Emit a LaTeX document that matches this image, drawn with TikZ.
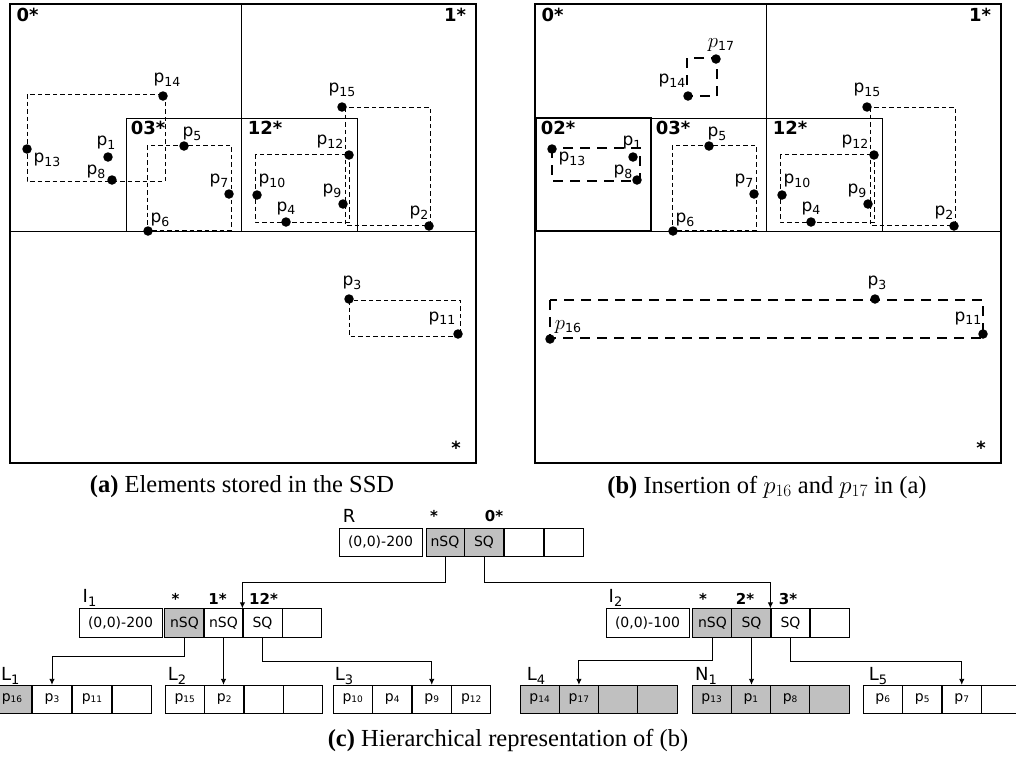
\documentclass[tikz,border=0pt]{standalone}
\usepackage{fontspec}
\setmainfont{Liberation Serif}
\newfontfamily\dvs{DejaVu Sans}
\usetikzlibrary{arrows.meta}
\definecolor{cgray}{RGB}{192,192,192}
\newcommand\plabf{\dvs\fontsize{17}{17}\selectfont}
\newcommand\ptxt[1]{p\raisebox{-3.5pt}{\fontsize{12.5}{12.5}\selectfont #1}}
\newcommand\iptxt[1]{{\fontsize{22}{22}\selectfont$p$}\raisebox{-3.5pt}{\fontsize{12.5}{12.5}\selectfont #1}}
\newcommand\qlabf{\dvs\bfseries\fontsize{18}{18}\selectfont}
\newcommand\cellf{\dvs\fontsize{14}{14}\selectfont}
\newcommand\lptxt[1]{p\raisebox{-0.8pt}{\fontsize{9}{9}\selectfont #1}}
\newcommand\trlab[2]{#1\raisebox{-4pt}{\fontsize{13}{13}\selectfont #2}}
\newcommand\starf{\dvs\bfseries\fontsize{15}{15}\selectfont}
\newcommand\trlabf{\dvs\fontsize{18}{18}\selectfont}
\tikzset{
  framel/.style={line width=1.4pt},
  gridl/.style={line width=0.9pt},
  dsh/.style={dash pattern=on 4.5pt off 3pt, line width=0.9pt},
  tdsh/.style={dash pattern=on 10pt off 7pt, line width=2.8pt},
  ptdot/.style={circle, fill=black, inner sep=0pt, minimum size=9.5pt},
  plab/.style={font=\plabf, inner sep=0pt},
  qlab/.style={font=\qlabf, inner sep=0pt},
  slab/.style={font=\starf, inner sep=0pt},
  tlab/.style={font=\trlabf, inner sep=0pt},
  captxt/.style={font=\fontsize{24.5}{24.5}\selectfont, inner sep=0pt},
  cell/.style={draw, line width=0.9pt, minimum height=28.5pt, minimum width=39.3pt, inner sep=0pt, font=\cellf},
  gcell/.style={cell, fill=cgray},
  wide/.style={cell, minimum width=83pt},
  arr/.style={line width=0.9pt, -{Latex[length=6pt,width=5.5pt]}}
}
\begin{document}
\begin{tikzpicture}[x=1pt,y=-1pt]
\path[use as bounding box] (0,0) rectangle (1016,756);
\clip (0,0) rectangle (1016,756);

% ================= panel (a) =================
\draw[framel] (10,4) rectangle (476,463);
\draw[gridl] (241,4) -- (241,231);
\draw[gridl] (10,231) -- (476,231);
\draw[gridl] (126,118) rectangle (241,231);
\draw[gridl] (241,118) rectangle (357,231);
\draw[dsh] (27,94) rectangle (165,181);
\draw[dsh] (147,145) rectangle (231,230);
\draw[dsh] (345,107) rectangle (430,225);
\draw[dsh] (255,154) rectangle (349,222);
\draw[dsh] (349,300) rectangle (460,336);
\node[qlab] (qa0) at (27.5,15) {0*};
\node[qlab] (qa1) at (455,15) {1*};
\node[qlab] (qa03) at (148,128) {03*};
\node[qlab] (qa12) at (265,128) {12*};
\node[qlab] (qas) at (456,448) {\vphantom{0}*};
\node[ptdot] (a14) at (163,96) {};
\node[ptdot] (a13) at (27,149) {};
\node[ptdot] (a1) at (108,157) {};
\node[ptdot] (a8) at (112,180) {};
\node[ptdot] (a5) at (184,146) {};
\node[ptdot] (a7) at (229,194) {};
\node[ptdot] (a6) at (148,231) {};
\node[ptdot] (a15) at (342,107) {};
\node[ptdot] (a12) at (349,155) {};
\node[ptdot] (a10) at (257,195) {};
\node[ptdot] (a9) at (343,204) {};
\node[ptdot] (a4) at (286,222) {};
\node[ptdot] (a2) at (429,226) {};
\node[ptdot] (a3) at (349,299) {};
\node[ptdot] (a11) at (458,334) {};
\node[plab] (la14) at (167,80) {\ptxt{14}};
\node[plab] (la13) at (47,160) {\ptxt{13}};
\node[plab] (la1) at (106,143) {\ptxt{1}};
\node[plab] (la8) at (96,172) {\ptxt{8}};
\node[plab] (la5) at (192,134) {\ptxt{5}};
\node[plab] (la7) at (219,181) {\ptxt{7}};
\node[plab] (la6) at (160,220) {\ptxt{6}};
\node[plab] (la15) at (342,90) {\ptxt{15}};
\node[plab] (la12) at (330,142) {\ptxt{12}};
\node[plab] (la10) at (272,181) {\ptxt{10}};
\node[plab] (la9) at (332,191) {\ptxt{9}};
\node[plab] (la4) at (286,208) {\ptxt{4}};
\node[plab] (la2) at (419,213) {\ptxt{2}};
\node[plab] (la3) at (352,283) {\ptxt{3}};
\node[plab] (la11) at (442,318) {\ptxt{11}};

% ================= panel (b) =================
\draw[framel] (535,4) rectangle (1001,463);
\draw[gridl] (766,4) -- (766,231);
\draw[gridl] (535,231) -- (1001,231);
\draw[gridl] (651,118) rectangle (766,231);
\draw[gridl] (766,118) rectangle (882,231);
\draw[line width=2.5pt] (536,118) rectangle (651,231);
\draw[dsh] (672,145) rectangle (756,230);
\draw[dsh] (870,107) rectangle (955,225);
\draw[dsh] (780,154) rectangle (874,222);
\draw[tdsh] (552,148) rectangle (640,181);
\draw[tdsh] (687,58) rectangle (717,96);
\draw[tdsh] (550,300) rectangle (983,338);
\node[qlab] (qb0) at (552.5,15) {0*};
\node[qlab] (qb1) at (980,15) {1*};
\node[qlab] (qb02) at (558,128) {02*};
\node[qlab] (qb03) at (673,128) {03*};
\node[qlab] (qb12) at (790,128) {12*};
\node[qlab] (qbs) at (981,448) {\vphantom{0}*};
\node[ptdot] (b14) at (688,96) {};
\node[ptdot] (b17) at (716,59) {};
\node[ptdot] (b13) at (552,149) {};
\node[ptdot] (b1) at (633,157) {};
\node[ptdot] (b8) at (637,180) {};
\node[ptdot] (b5) at (709,146) {};
\node[ptdot] (b7) at (754,194) {};
\node[ptdot] (b6) at (673,231) {};
\node[ptdot] (b15) at (867,107) {};
\node[ptdot] (b12) at (874,155) {};
\node[ptdot] (b10) at (782,195) {};
\node[ptdot] (b9) at (868,204) {};
\node[ptdot] (b4) at (811,222) {};
\node[ptdot] (b2) at (954,226) {};
\node[ptdot] (b3) at (875,299) {};
\node[ptdot] (b11) at (983,334) {};
\node[ptdot] (b16) at (550,339) {};
\node[plab] (lb17) at (721,45) {\iptxt{17}};
\node[plab] (lb14) at (672,81) {\ptxt{14}};
\node[plab] (lb13) at (572,159) {\ptxt{13}};
\node[plab] (lb1) at (632,143) {\ptxt{1}};
\node[plab] (lb8) at (623,172) {\ptxt{8}};
\node[plab] (lb5) at (717,134) {\ptxt{5}};
\node[plab] (lb7) at (744,181) {\ptxt{7}};
\node[plab] (lb6) at (685,220) {\ptxt{6}};
\node[plab] (lb15) at (867,90) {\ptxt{15}};
\node[plab] (lb12) at (855,142) {\ptxt{12}};
\node[plab] (lb10) at (797,181) {\ptxt{10}};
\node[plab] (lb9) at (857,191) {\ptxt{9}};
\node[plab] (lb4) at (811,208) {\ptxt{4}};
\node[plab] (lb2) at (944,213) {\ptxt{2}};
\node[plab] (lb3) at (877,283) {\ptxt{3}};
\node[plab] (lb11) at (968,318) {\ptxt{11}};
\node[plab] (lb16) at (568,327) {\iptxt{16}};

% ================= captions =================
\node[captxt] (capa) at (242,487) {\textbf{(a)} Elements stored in the SSD};
\node[captxt] (capb) at (767,487) {\textbf{(b)} Insertion of $p_{16}$ and $p_{17}$ in (a)};
\node[captxt] (capc) at (508,740) {\textbf{(c)} Hierarchical representation of (b)};

% ================= tree (c) =================
\node[tlab] (tR) at (349,516) {R};
\node[slab] (sr1) at (434,516) {\vphantom{0}*};
\node[slab] (sr2) at (494,516) {0*};
\node[wide] (r0) at (380.5,542.5) {(0,0)-200};
\node[gcell, minimum width=38pt] (r1) at (445,542.5) {nSQ};
\node[gcell] (r2) at (484,542.5) {SQ};
\node[cell] (r3) at (524,542.5) {};
\node[cell] (r4) at (564,542.5) {};

\node[tlab] (tI1) at (89.5,598) {\trlab{I}{1}};
\node[slab] (si1) at (175.5,599) {\vphantom{0}*};
\node[slab] (si2) at (217.5,599) {1*};
\node[slab] (si3) at (263.5,599) {12*};
\node[wide] (i0) at (120.5,623) {(0,0)-200};
\node[gcell] (i1) at (184.5,623) {nSQ};
\node[cell] (i2) at (223.5,623) {nSQ};
\node[cell] (i3) at (262.5,623) {SQ};
\node[cell] (i4) at (302,623) {};

\node[tlab] (tI2) at (615.5,598) {\trlab{I}{2}};
\node[slab] (sj1) at (703,599) {\vphantom{0}*};
\node[slab] (sj2) at (745,599) {2*};
\node[slab] (sj3) at (788,599) {3*};
\node[wide] (j0) at (647.5,623) {(0,0)-100};
\node[gcell] (j1) at (712.5,623) {nSQ};
\node[gcell] (j2) at (751.5,623) {SQ};
\node[cell] (j3) at (790.5,623) {SQ};
\node[cell] (j4) at (829.5,623) {};

\node[tlab, anchor=west] (tL1) at (1,676) {\trlab{L}{1}};
\node[gcell] (la1c) at (12,699.5) {\lptxt{16}};
\node[cell] (la2c) at (52,699.5) {\lptxt{3}};
\node[cell] (la3c) at (92,699.5) {\lptxt{11}};
\node[cell] (la4c) at (132,699.5) {};

\node[tlab] (tL2) at (177,676) {\trlab{L}{2}};
\node[cell] (lb1c) at (184.75,699.5) {\lptxt{15}};
\node[cell] (lb2c) at (224.25,699.5) {\lptxt{2}};
\node[cell] (lb3c) at (263.75,699.5) {};
\node[cell] (lb4c) at (303.25,699.5) {};

\node[tlab] (tL3) at (344,676) {\trlab{L}{3}};
\node[cell] (lc1c) at (352.75,699.5) {\lptxt{10}};
\node[cell] (lc2c) at (392.25,699.5) {\lptxt{4}};
\node[cell] (lc3c) at (431.75,699.5) {\lptxt{9}};
\node[cell] (lc4c) at (471.25,699.5) {\lptxt{12}};

\node[tlab] (tL4) at (536,676) {\trlab{L}{4}};
\node[gcell] (ld1c) at (539.6,699.5) {\lptxt{14}};
\node[gcell] (ld2c) at (578.9,699.5) {\lptxt{17}};
\node[gcell] (ld3c) at (618.1,699.5) {};
\node[gcell] (ld4c) at (657.4,699.5) {};

\node[tlab] (tN1) at (706,676) {\trlab{N}{1}};
\node[gcell] (ln1c) at (711.6,699.5) {\lptxt{13}};
\node[gcell] (ln2c) at (750.9,699.5) {\lptxt{1}};
\node[gcell] (ln3c) at (790.1,699.5) {\lptxt{8}};
\node[gcell] (ln4c) at (829.4,699.5) {};

\node[tlab] (tL5) at (878,676) {\trlab{L}{5}};
\node[cell] (le1c) at (882.75,699.5) {\lptxt{6}};
\node[cell] (le2c) at (922.25,699.5) {\lptxt{5}};
\node[cell] (le3c) at (961.75,699.5) {\lptxt{7}};
\node[cell] (le4c) at (1001.25,699.5) {};

% connectors
\draw[arr] (r1.south) -- ++(0,25) -| (i3.north west);
\draw[arr] (r2.south) -- ++(0,25) -| (j3.north west);
\draw[arr] (i1.south) -- ++(0,19) -| (la2c.north);
\draw[arr] (i2.south) -- (i2.south |- lb2c.north);
\draw[arr] (i3.south) -- ++(0,24) -| (lc3c.north);
\draw[arr] (j1.south) -- ++(0,23) -| (ld2c.north);
\draw[arr] (j2.south) -- (j2.south |- ln2c.north);
\draw[arr] (j3.south) -- ++(0,24) -| (le3c.north);
\end{tikzpicture}
\end{document}
